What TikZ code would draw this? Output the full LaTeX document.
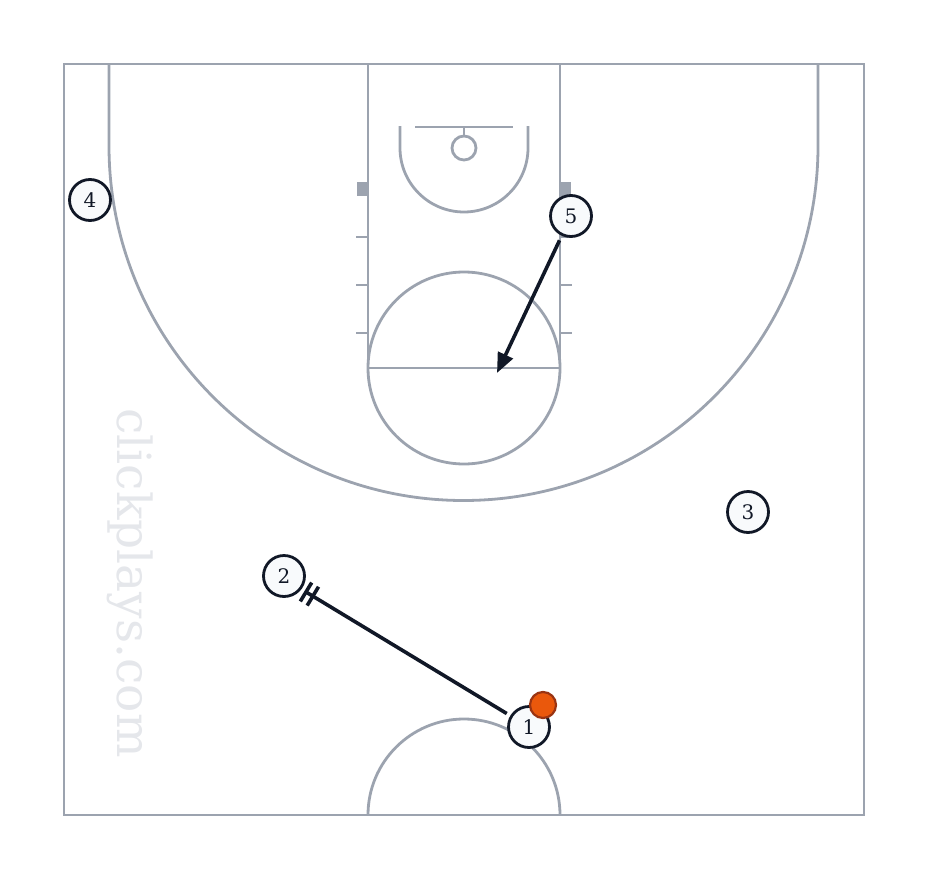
\documentclass[tikz,border=0pt]{standalone}
\usepackage{fontspec}
\setmainfont{DejaVu Serif}
\usetikzlibrary{arrows.meta,calc}
\definecolor{court}{HTML}{9CA3AF}
\definecolor{ink}{HTML}{111827}
\definecolor{pfill}{HTML}{F8FAFC}
\definecolor{ballfill}{HTML}{EA580C}
\definecolor{ballline}{HTML}{9A3412}
\definecolor{wmark}{HTML}{E5E7EB}
\tikzset{
  courtline/.style={draw=court, line width=2.8pt},
  player/.style={circle, draw=ink, fill=pfill, line width=2.8pt, minimum size=41pt, inner sep=0pt, font=\fontsize{20}{20}\selectfont, text=ink},
  ball/.style={circle, draw=ballline, fill=ballfill, line width=2.2pt, minimum size=26pt, inner sep=0pt},
  move/.style={draw=ink, line width=3.6pt},
  screenbar/.style={draw=ink, line width=3.6pt},
}
\begin{document}
\begin{tikzpicture}[x=1pt,y=-1pt]
\useasboundingbox (0,0) rectangle (928,880);
% court
\draw[courtline] (64,64) rectangle (864,815);
% lane
\draw[courtline] (368,368) -- (368,64) -- (560,64) -- (560,368);
\draw[courtline] (368,368) -- (560,368);
% free throw circle
\draw[courtline] (464,368) circle[radius=96];
% backboard and rim
\draw[courtline] (415,127) -- (513,127);
\draw[courtline] (464,127) -- (464,135);
\draw[courtline] (464,148) circle[radius=12];
% restricted arc
\draw[courtline] (400,126) -- (400,148) arc[start angle=180, end angle=360, radius=64, y radius=-64] -- (528,126);
% blocks
\fill[court] (357,182) rectangle (368,196);
\fill[court] (560,182) rectangle (571,196);
% ticks
\foreach \yy in {237,285,333} {
  \draw[courtline] (356,\yy) -- (368,\yy);
  \draw[courtline] (560,\yy) -- (572,\yy);
}
% three point
\draw[courtline] (109,64) -- (109,146) arc[start angle=180, end angle=360, radius=354.5, y radius=-354.5] -- (818,64);
% bottom circle
\draw[courtline] (368,815) arc[start angle=180, end angle=0, radius=96, y radius=-96];
% watermark
\node[rotate=-90, text=wmark, font=\fontsize{47}{47}\selectfont] (wm) at (130,583) {clickplays.com};
% players
\node[player] (p4) at (90,200) {4};
\node[player] (p5) at (571,216) {5};
\node[player] (p3) at (748,512) {3};
\node[player] (p2) at (284,576) {2};
\node[player] (p1) at (529,727) {1};
\node[ball] (b) at (543,705) {};
% cut of 5
\coordinate (c5) at (497,373);
\draw[move, shorten <=5pt, -{Triangle[length=20pt,width=16pt]}] (p5) -- (c5);
% screen from 1 to 2
\coordinate (s2) at (306,592);
\coordinate (s2b) at ($(s2)!8pt!(p1)$);
\draw[move] (s2) -- ($(p1)!26pt!(s2)$);
\draw[screenbar] ($(s2)!11pt!90:(p1)$) -- ($(s2)!11pt!-90:(p1)$);
\draw[screenbar] ($(s2b)!11pt!90:(p1)$) -- ($(s2b)!11pt!-90:(p1)$);
\end{tikzpicture}
\end{document}
